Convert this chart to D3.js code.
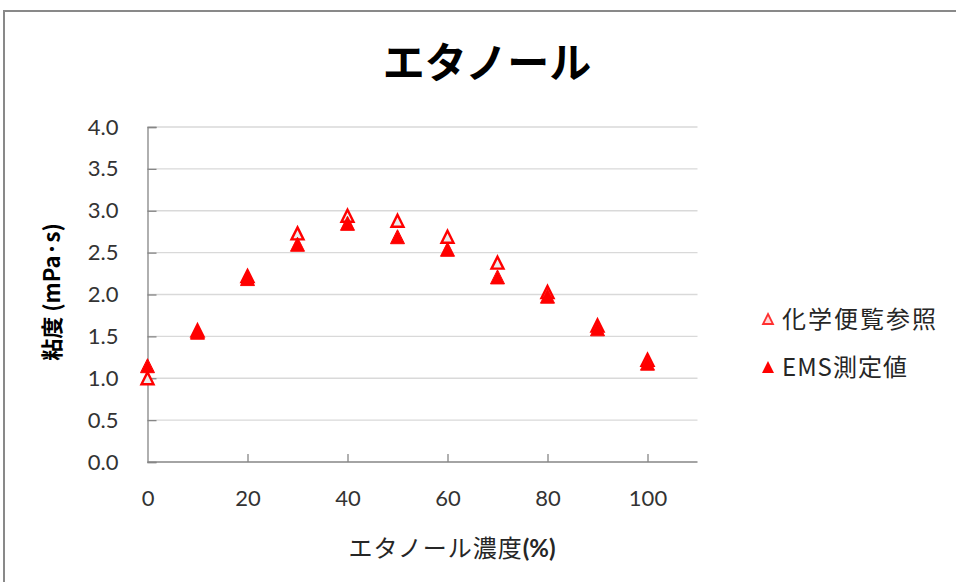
<!DOCTYPE html>
<html><head><meta charset="utf-8">
<script src="https://cdn.jsdelivr.net/npm/d3@7"></script>
<style>body{margin:0;background:#fff}svg{display:block}</style>
</head><body>
<script>
const concentrations = [0, 10, 20, 30, 40, 50, 60, 70, 80, 90, 100];
const refValues = [1.00, 1.57, 2.22, 2.73, 2.94, 2.88, 2.69, 2.38, 2.03, 1.63, 1.22];
const emsValues = [1.15, 1.55, 2.19, 2.60, 2.85, 2.69, 2.54, 2.21, 1.98, 1.59, 1.18];
const yTicks = [0, 0.5, 1.0, 1.5, 2.0, 2.5, 3.0, 3.5, 4.0];
const xTicks = [0, 20, 40, 60, 80, 100];
const seriesNames = ["化学便覧参照", "EMS測定値"];
const titleText = "エタノール";
const yLabel = "粘度 (mPa·s)";
const xLabel = "エタノール濃度";

const W = 956, H = 582;
const svg = d3.select("body").append("svg").attr("width", W).attr("height", H);
const jp = "'Noto Sans CJK JP', 'Noto Sans', sans-serif";
const num = "Lato, 'Noto Sans', sans-serif";

svg.append("rect").attr("x", 4).attr("y", 11).attr("width", 1000).attr("height", 1000)
  .attr("fill", "#fff").attr("stroke", "#898989").attr("stroke-width", 2);

const x = d3.scaleLinear().domain([0, 110]).range([147.5, 697.5]);
const y = d3.scaleLinear().domain([0, 4]).range([462, 127]);

// gridlines
svg.append("g").selectAll("line").data(yTicks.filter(d => d > 0)).join("line")
  .attr("x1", x(0)).attr("x2", x(110)).attr("y1", d => y(d)).attr("y2", d => y(d))
  .attr("stroke", "#d9d9d9").attr("stroke-width", 1.3);

// y axis
const yAxis = svg.append("g").attr("transform", `translate(${x(0)},0)`)
  .call(d3.axisRight(y).tickValues(yTicks).tickSize(9).tickFormat(d3.format(".1f")));
yAxis.select(".domain").attr("stroke", "#868686").attr("stroke-width", 1.3);
yAxis.selectAll(".tick line").attr("stroke", "#868686").attr("stroke-width", 1.3);
yAxis.selectAll(".tick text").attr("x", -29).attr("text-anchor", "end")
  .attr("font-family", num).attr("font-size", 22).attr("fill", "#333");

// x axis
const xAxis = svg.append("g").attr("transform", `translate(0,${y(0)})`)
  .call(d3.axisTop(x).tickValues(xTicks).tickSize(8).tickFormat(d3.format("d")));
xAxis.select(".domain").attr("stroke", "#868686").attr("stroke-width", 1.3).attr("d", `M${x(0)},0H${x(110)}`);
xAxis.selectAll(".tick line").attr("stroke", "#868686").attr("stroke-width", 1.3)
  .attr("display", d => d === 0 ? "none" : null);
xAxis.selectAll(".tick text").attr("y", 36).attr("dy", "0.35em")
  .attr("font-family", num).attr("font-size", 22).attr("fill", "#333");

function tri(s) { const h = s / 2; return `M0,${-h}L${h},${h}L${-h},${h}Z`; }

// reference (hollow)
svg.append("g").selectAll("path").data(concentrations.map((c, i) => [c, refValues[i]])).join("path")
  .attr("transform", d => `translate(${x(d[0])},${y(d[1])})`)
  .attr("d", tri(12)).attr("fill", "#ececec").attr("stroke", "#ff0000").attr("stroke-width", 2.4)
  .attr("stroke-linejoin", "miter");

// EMS (filled)
svg.append("g").selectAll("path").data(concentrations.map((c, i) => [c, emsValues[i]])).join("path")
  .attr("transform", d => `translate(${x(d[0])},${y(d[1])})`)
  .attr("d", tri(14)).attr("fill", "#ff0000").attr("stroke", "#ff0000").attr("stroke-width", 1);

// title
svg.append("text").attr("x", 487).attr("y", 78).attr("text-anchor", "middle")
  .attr("font-family", jp).attr("font-weight", "bold").attr("font-size", 42).attr("fill", "#000")
  .text(titleText);

// y label
svg.append("text").attr("transform", "translate(60,292) rotate(-90)").attr("text-anchor", "middle")
  .attr("font-family", jp).attr("font-weight", "bold").attr("font-size", 22).attr("fill", "#000")
  .text(yLabel);

// x label
const xl = svg.append("text").attr("x", 452).attr("y", 557).attr("text-anchor", "middle")
  .attr("font-family", jp).attr("font-size", 24).attr("letter-spacing", 1).attr("fill", "#262626");
xl.append("tspan").text(xLabel);
xl.append("tspan").attr("font-weight", "bold").attr("font-family", num).attr("letter-spacing", 0).text("(%)");

// legend
const leg = svg.append("g");
const legY = [319, 367];
leg.append("path").attr("transform", `translate(768,${legY[0]})`).attr("d", tri(10))
  .attr("fill", "#ffd9d9").attr("stroke", "#ff3030").attr("stroke-width", 1.8);
leg.append("path").attr("transform", `translate(768,${legY[1]})`).attr("d", tri(12))
  .attr("fill", "#ff0000");
leg.selectAll("text").data(seriesNames).join("text")
  .attr("x", 782).attr("y", (d, i) => legY[i]).attr("dy", "0.36em")
  .attr("font-family", jp).attr("font-size", 24).attr("letter-spacing", (d, i) => i === 0 ? 2 : 1)
  .attr("fill", "#262626").text(d => d);
</script>
</body></html>
